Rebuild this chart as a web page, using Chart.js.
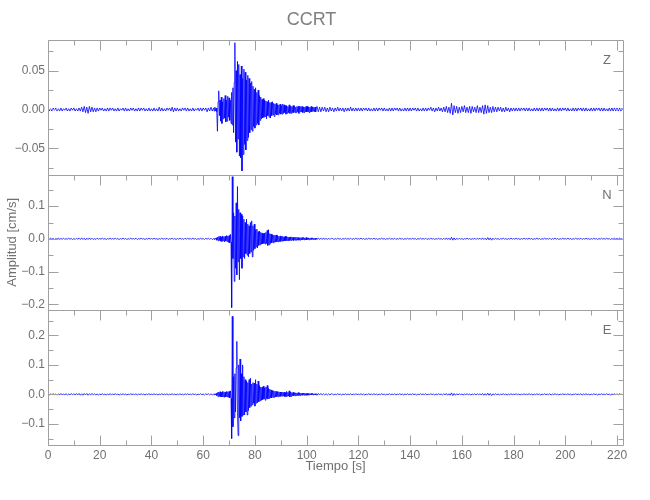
<!DOCTYPE html>
<html>
<head>
<meta charset="utf-8">
<script src="https://cdn.jsdelivr.net/npm/chart.js@4.4.1/dist/chart.umd.min.js"></script>
<style>
  html, body { margin: 0; padding: 0; background: #fff; }
  canvas { display: block; }
</style>
</head>
<body>
<canvas id="sismo" width="650" height="500"></canvas>
<script>
// Estación y componentes
const estacion = 'CCRT';
const componentes = ['Z', 'N', 'E'];

// Muestreo: 0.5 s en general, 0.25 s en la fase intensa (64-104 s)
const dt = 0.5;
const dtFino = 0.25;
const tFino = 64;
const tCola = 104;

// Velocidad en 10^-3 cm/s
// --- componente Z ---
const lentoZ = [
  2,-2,1,-2,2,-1,2,-2,1,-2,2,-2,1,-1,2,-2,1,-2,2,-1,            // 0-10
  2,-2,1,-2,2,-2,3,-3,4,-4,3,-5,4,-3,3,-3,2,-3,2,-2,            // 10-20
  2,-1,2,-2,1,-2,2,-2,2,-1,2,-2,1,-2,2,-2,1,-1,2,-2,            // 20-30
  2,-2,1,-2,2,-1,2,-2,1,-2,2,-2,2,-1,2,-2,1,-2,2,-2,            // 30-40
  1,-2,2,-2,1,-2,3,-2,2,-2,1,-2,2,-1,2,-2,3,-3,2,-2,            // 40-50
  2,-2,1,-2,2,-1,2,-2,2,-2,1,-2,2,-2,1,-1,2,-2,2,-2,            // 50-60
  2,-1,2,-3,2,-2,3,-2                                           // 60-64
];
const finoZ = [
  2,-2,3,-2, 2,-3,-28,10,            // 64-66
  24,-8,12,-15, 16,-18,10,-12,       // 66-68
  14,-11,18,-16, 12,-15,17,-10,      // 68-70
  15,-14,12,-18, 22,-20,28,-30,      // 70-72
  35,86,-42,50, -55,62,-38,58,       // 72-74
  -60,45,-62,56, -79,40,-58,52,      // 74-76
  -45,48,-52,38, -40,44,-36,40,      // 76-78
  -30,34,-26,36, -28,30,-22,26,      // 78-80
  -24,28,-20,22, -18,25,-20,18,      // 80-82
  -14,16,-12,13, -11,14,-10,12,      // 82-84
  -9,11,-12,10, -8,12,-10,9,         // 84-86
  -11,9,-8,10, -7,8,-9,7,            // 86-88
  -6,8,-7,6, -7,6,-5,7,              // 88-90
  -6,5,-6,7, -5,6,-4,5,              // 90-92
  -6,5,-5,4, -4,6,-5,4,              // 92-94
  -5,4,-4,5, -4,5,-4,3,              // 94-96
  -4,4,-3,4, -5,4,-3,4,              // 96-98
  -3,4,-4,3, -4,3,-3,4,              // 98-100
  -3,4,-3,3, -4,3,-3,4,              // 100-102
  -3,3,-2,3, -3,3,-3,2               // 102-104
];
const colaZ = [
  4,-3,3,-3,3,-2,3,-3,2,-3,3,-2,                                // 104-110
  2,-3,2,-2,3,-2,2,-2,2,-3,2,-2,2,-2,3,-2,2,-2,2,-2,            // 110-120
  2,-2,2,-2,2,-1,2,-2,2,-2,1,-2,2,-2,2,-2,2,-1,2,-2,            // 120-130
  2,-2,1,-2,2,-2,2,-2,2,-1,2,-2,2,-2,1,-2,2,-2,2,-2,            // 130-140
  2,-2,2,-1,2,-2,2,-2,1,-2,2,-2,2,-2,2,-1,3,-2,2,-3,            // 140-150
  2,-2,3,-2,2,-3,3,-3,4,-4,3,-5,8,-7,5,-4,4,-5,3,-4,            // 150-160
  4,-3,5,-4,3,-4,4,-5,4,-3,3,-4,5,-4,3,-4,5,-6,6,-5,            // 160-170
  5,-4,3,-4,4,-3,3,-3,3,-2,3,-3,2,-3,3,-2,2,-3,2,-2,            // 170-180
  2,-2,2,-2,2,-2,2,-1,2,-2,2,-2,2,-2,1,-2,2,-2,2,-2,            // 180-190
  2,-2,2,-2,2,-1,2,-2,2,-2,2,-2,1,-2,2,-2,2,-2,2,-1,            // 190-200
  2,-2,2,-2,1,-2,2,-2,2,-2,2,-1,2,-2,2,-2,2,-2,1,-2,            // 200-210
  2,-2,2,-2,2,-1,2,-2,2,-2,2,-2,1,-2,2,-2,2,-2,2,-2,            // 210-220
  2,-2,2,-2,2                                                   // 220-222
];

// --- componente N ---
const lentoN = [
  1,-1,2,-1,1,-2,1,-1,2,-1,1,-1,2,-2,1,-1,2,-1,1,-2,            // 0-10
  1,-2,2,-1,2,-2,3,-2,2,-3,2,-2,3,-2,2,-2,1,-2,2,-1,            // 10-20
  1,-1,2,-1,1,-2,1,-1,2,-1,1,-1,2,-1,1,-2,1,-1,2,-1,            // 20-30
  1,-2,1,-1,2,-1,1,-1,2,-2,1,-1,2,-1,1,-2,1,-1,2,-1,            // 30-40
  1,-1,2,-1,1,-2,1,-1,2,-1,1,-1,2,-2,1,-1,2,-1,1,-2,            // 40-50
  1,-1,2,-1,1,-2,2,-1,2,-1,1,-1,2,-1,1,-2,1,-1,2,-1,            // 50-60
  1,-2,2,-1,2,-2,2,-2                                           // 60-64
];
const finoN = [
  1,-2,2,-1, 3,-4,5,-6,              // 64-66
  7,-5,8,-7, 6,-8,9,-6,              // 66-68
  7,-9,8,-7, 10,-8,9,-11,            // 68-70
  10,-12,14,-10, -210,190,-60,80,    // 70-72
  -130,70,-90,110, -110,160,-70,90,  // 72-74
  -125,80,-60,75, -90,70,-55,60,     // 74-76
  -60,50,-45,60, -50,45,-55,40,      // 76-78
  -45,50,-40,55, -55,40,-35,45,      // 78-80
  -30,28,-25,30, -28,22,-20,24,      // 80-82
  -18,20,-16,18, -15,16,-14,18,      // 82-84
  -16,20,-14,26, -20,28,-18,16,      // 84-86
  -14,15,-12,13, -12,11,-10,12,      // 86-88
  -10,12,-9,10, -9,8,-8,9,           // 88-90
  -8,7,-7,8, -7,6,-6,8,              // 90-92
  -6,7,-5,6, -6,5,-5,6,              // 92-94
  -5,6,-4,5, -5,4,-4,5,              // 94-96
  -4,5,-4,4, -4,3,-4,4,              // 96-98
  -3,4,-3,4, -3,3,-3,4,              // 98-100
  -3,3,-2,3, -3,2,-2,3,              // 100-102
  -2,3,-2,2, -2,2,-2,2               // 102-104
];
const colaN = [
  -2,3,-2,2,-2,3,-2,2,-2,2,-2,2,                                // 104-110
  1,-2,1,-1,2,-1,1,-2,1,-1,2,-1,1,-1,2,-2,1,-1,2,-1,            // 110-120
  1,-1,2,-1,1,-2,1,-1,2,-1,1,-1,2,-1,1,-2,1,-1,2,-1,            // 120-130
  1,-2,1,-1,2,-1,1,-1,2,-2,1,-1,2,-1,1,-2,1,-1,2,-1,            // 130-140
  1,-1,2,-1,1,-2,1,-1,2,-1,1,-1,2,-2,1,-1,2,-1,1,-2,            // 140-150
  1,-1,2,-1,1,-2,2,-2,3,-2,2,-3,5,-4,3,-3,2,-2,2,-1,            // 150-160
  1,-2,1,-1,2,-1,1,-2,1,-1,2,-2,2,-1,2,-2,3,-2,2,-3,            // 160-170
  4,-3,3,-4,2,-2,2,-1,1,-2,1,-1,2,-1,1,-2,1,-1,2,-1,            // 170-180
  1,-1,2,-1,1,-2,1,-1,2,-1,1,-1,2,-1,1,-2,1,-1,2,-1,            // 180-190
  1,-2,1,-1,2,-1,1,-1,2,-2,1,-1,2,-1,1,-2,1,-1,2,-1,            // 190-200
  1,-1,2,-1,1,-2,1,-1,2,-1,1,-1,2,-2,1,-1,2,-1,1,-2,            // 200-210
  1,-1,2,-1,1,-2,1,-1,2,-1,1,-1,2,-1,1,-2,1,-1,2,-1,            // 210-220
  1,-1,2,-1,1                                                   // 220-222
];

// --- componente E ---
const lentoE = [
  1,-2,1,-1,2,-1,1,-2,1,-1,2,-1,1,-1,2,-2,1,-1,2,-1,            // 0-10
  2,-2,3,-2,3,-3,2,-3,3,-2,3,-3,2,-2,3,-2,2,-2,1,-2,            // 10-20
  1,-1,2,-1,1,-2,1,-1,2,-1,1,-1,2,-1,1,-2,1,-1,2,-1,            // 20-30
  1,-2,1,-1,2,-1,1,-1,2,-2,1,-1,2,-1,1,-2,1,-1,2,-1,            // 30-40
  1,-1,2,-1,1,-2,1,-1,2,-1,1,-1,2,-2,1,-1,2,-1,1,-2,            // 40-50
  1,-1,2,-1,1,-2,2,-1,2,-1,1,-1,2,-1,1,-2,1,-1,2,-1,            // 50-60
  1,-2,2,-1,2,-2,2,-2                                           // 60-64
];
const finoE = [
  1,-2,2,-2, 3,-4,6,-8,              // 64-66
  8,-7,9,-8, 7,-9,10,-8,             // 66-68
  9,-10,8,-9, 10,-8,9,-10,           // 68-70
  10,-12,12,-14, -150,265,-110,60,   // 70-72
  -80,70,-60,90, 180,-60,-140,100,   // 72-74
  -80,120,-90,70, -75,100,-70,60,    // 74-76
  -70,50,-60,45, -70,40,-55,50,      // 76-78
  -45,55,-40,35, -35,40,-30,38,      // 78-80
  -40,50,-30,35, -28,45,-25,30,      // 80-82
  -22,25,-20,24, -18,28,-16,22,      // 82-84
  -20,25,-14,30, -16,20,-14,18,      // 84-86
  -12,15,-12,13, -10,12,-10,11,      // 86-88
  -9,10,-8,9, -8,9,-7,8,             // 88-90
  -7,8,-6,7, -6,8,-7,6,              // 90-92
  -8,10,-6,7, -6,12,-9,8,            // 92-94
  -7,6,-5,7, -5,6,-5,5,              // 94-96
  -4,5,-4,6, -4,5,-4,4,              // 96-98
  -3,4,-3,4, -3,4,-3,3,              // 98-100
  -3,3,-3,3, -2,3,-2,3,              // 100-102
  -2,3,-2,2, -2,2,-2,2               // 102-104
];
const colaE = [
  -3,3,-2,3,-2,2,-2,2,-2,2,-2,2,                                // 104-110
  1,-2,1,-1,2,-1,1,-2,1,-1,2,-1,1,-1,2,-2,1,-1,2,-1,            // 110-120
  1,-1,2,-1,1,-2,1,-1,2,-1,1,-1,2,-1,1,-2,1,-1,2,-1,            // 120-130
  1,-2,1,-1,2,-1,1,-1,2,-2,1,-1,2,-1,1,-2,1,-1,2,-1,            // 130-140
  1,-1,2,-1,1,-2,1,-1,2,-1,1,-1,2,-2,1,-1,2,-1,1,-2,            // 140-150
  1,-1,2,-1,1,-2,2,-2,3,-3,2,-3,5,-4,3,-3,2,-2,2,-1,            // 150-160
  1,-2,1,-1,2,-1,1,-2,1,-1,2,-2,2,-1,2,-2,3,-3,2,-3,            // 160-170
  4,-3,3,-4,2,-2,2,-1,1,-2,1,-1,2,-1,1,-2,1,-1,2,-1,            // 170-180
  1,-1,2,-1,1,-2,1,-1,2,-1,1,-1,2,-1,1,-2,1,-1,2,-1,            // 180-190
  1,-2,1,-1,2,-1,1,-1,2,-2,1,-1,2,-1,1,-2,1,-1,2,-1,            // 190-200
  1,-1,2,-1,1,-2,1,-1,2,-1,1,-1,2,-2,1,-1,2,-1,1,-2,            // 200-210
  1,-1,2,-1,1,-2,1,-1,2,-1,1,-1,2,-1,1,-2,1,-1,2,-1,            // 210-220
  1,-1,2,-1,1                                                   // 220-222
];

// Ejes: rango y paso de las marcas de cada panel (Z, N, E)
const tMax = 222.3;
const pasoX = 20;
const minY = [-0.084, -0.217, -0.172];
const maxY = [0.090, 0.196, 0.287];
const pasoY = [0.05, 0.1, 0.1];
const decimales = [2, 1, 1];

const GRIS = '#a0a0a0';
const TEXTO = '#707070';
const AZUL = '#0000ff';
Chart.defaults.font.family = '"Liberation Sans Narrow", "Liberation Sans", sans-serif';
Chart.defaults.color = TEXTO;

const ejes = ['yZ', 'yN', 'yE'];

// une los tres tramos de una traza en puntos {x: tiempo, y: cm/s}
const traza = (lento, fino, cola) => [
  ...lento.map((v, i) => ({ x: i * dt, y: v / 1000 })),
  ...fino.map((v, i) => ({ x: tFino + i * dtFino, y: v / 1000 })),
  ...cola.map((v, i) => ({ x: tCola + i * dt, y: v / 1000 }))
];
const trazas = [
  traza(lentoZ, finoZ, colaZ),
  traza(lentoN, finoN, colaN),
  traza(lentoE, finoE, colaE)
];

const datasets = trazas.map((puntos, k) => ({
  label: componentes[k],
  data: puntos,
  yAxisID: ejes[k],
  borderColor: AZUL,
  borderWidth: 0.8,
  pointRadius: 0,
  tension: 0
}));

const fmt = (dec) => (v) => {
  if (Math.abs(v) < 1e-9) v = 0;
  return v.toFixed(dec).replace('-', '\u2212');
};

const scales = {
  x: {
    type: 'linear',
    min: 0,
    max: tMax,
    grid: { display: false, drawTicks: false },
    border: { display: false },
    ticks: { stepSize: pasoX, includeBounds: false, maxRotation: 0, padding: 3, font: { size: 12 } },
    title: { display: true, text: 'Tiempo [s]', font: { size: 13 }, padding: { top: 0, bottom: 1 } },
    afterFit: (s) => { s.height = 30; }
  }
};
// se definen de abajo hacia arriba para que Z quede arriba
[2, 1, 0].forEach(k => {
  scales[ejes[k]] = {
    type: 'linear',
    position: 'left',
    stack: 'comp',
    stackWeight: 1,
    min: minY[k],
    max: maxY[k],
    grid: { display: false, drawTicks: false },
    border: { display: false },
    ticks: { stepSize: pasoY[k], includeBounds: false, padding: 3, font: { size: 12 }, callback: fmt(decimales[k]) },
    title: { display: k === 1, text: 'Amplitud [cm/s]', font: { size: 13 }, padding: { top: 5, bottom: 0 } },
    afterFit: (s) => { s.width = 48; }
  };
});

// marco, marcas interiores y nombre de la componente
const marco = {
  id: 'marco',
  afterDatasetsDraw(chart) {
    const { ctx, chartArea: a, scales: sc } = chart;
    const x = sc.x;
    const izq = Math.round(a.left) + 0.5, der = Math.round(a.right) + 0.5;
    ctx.save();
    ctx.strokeStyle = GRIS;
    ctx.lineWidth = 1;
    ctx.beginPath();
    ejes.forEach((id, k) => {
      const s = sc[id];
      const arriba = Math.round(s.top) + 0.5, abajo = Math.round(s.bottom) + 0.5;
      ctx.rect(izq, arriba, der - izq, abajo - arriba);
      for (let j = 0; j * 10 <= x.max; j++) {
        const px = Math.round(x.getPixelForValue(j * 10)) + 0.5;
        const largo = j % 2 === 0 ? 10 : 5;
        ctx.moveTo(px, arriba); ctx.lineTo(px, arriba + largo);
        if (k === ejes.length - 1) { ctx.moveTo(px, abajo); ctx.lineTo(px, abajo - largo); }
      }
      const medio = pasoY[k] / 2;
      for (let j = Math.ceil(s.min / medio); j * medio <= s.max; j++) {
        const py = Math.round(s.getPixelForValue(j * medio)) + 0.5;
        const largo = j % 2 === 0 ? 10 : 5;
        ctx.moveTo(izq, py); ctx.lineTo(izq + largo, py);
        ctx.moveTo(der, py); ctx.lineTo(der - largo, py);
      }
    });
    ctx.stroke();
    ctx.fillStyle = TEXTO;
    ctx.font = '13px "Liberation Sans Narrow", sans-serif';
    ctx.textAlign = 'center';
    ctx.textBaseline = 'middle';
    ejes.forEach((id, k) => {
      ctx.fillText(componentes[k], a.right - 16, sc[id].top + 21);
    });
    ctx.restore();
  }
};

new Chart(document.getElementById('sismo'), {
  type: 'line',
  data: { datasets },
  options: {
    responsive: false,
    animation: false,
    layout: { padding: { left: 0, right: 27, top: 0, bottom: 25 } },
    plugins: {
      legend: { display: false },
      tooltip: { enabled: false },
      title: {
        display: true,
        text: estacion,
        color: '#808080',
        font: { size: 18, weight: 'normal' },
        padding: { top: 9, bottom: 9 }
      }
    },
    scales
  },
  plugins: [marco]
});
</script>
</body>
</html>
